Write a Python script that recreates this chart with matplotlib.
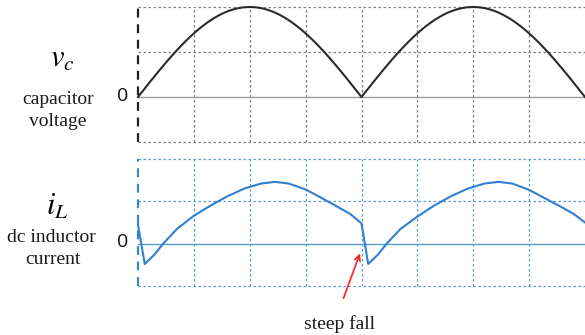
import numpy as np
import matplotlib
matplotlib.use("Agg")
import matplotlib.pyplot as plt

# DATA
grid_x = [1, 2, 3, 4, 5, 6, 7]
vc_x = np.linspace(0, 8, 161)
vc_peak = 2.0
vc_period = 8.0

# dc inductor current
il_x = [0.0, 0.12, 0.3, 0.45, 0.7, 1.0, 1.3, 1.6, 1.9, 2.2, 2.45, 2.7,
        3.0, 3.3, 3.6, 3.8, 4.0,
        4.12, 4.3, 4.45, 4.7, 5.0, 5.3, 5.6, 5.9, 6.2, 6.45, 6.7,
        7.0, 7.3, 7.6, 7.8, 8.0]
il_y = [0.45, -0.48, -0.25, 0.0, 0.35, 0.66, 0.9, 1.12, 1.3, 1.42, 1.46, 1.42,
        1.28, 1.07, 0.85, 0.7, 0.48,
        -0.48, -0.25, 0.0, 0.35, 0.64, 0.9, 1.12, 1.3, 1.42, 1.46, 1.42,
        1.27, 1.06, 0.85, 0.7, 0.5]

W, H = 585, 335
fig = plt.figure(figsize=(W / 100, H / 100), dpi=100)
plt.rcParams["mathtext.fontset"] = "stix"


def box(left, top, right, bottom):
    return [left / W, 1 - bottom / H, (right - left) / W, (bottom - top) / H]


def panel(rect, grid_col, border_col, zero_col):
    ax = fig.add_axes(rect)
    ax.set_xlim(0, 8)
    ax.set_ylim(-1, 2)
    ax.axis("off")
    for gx in grid_x:
        ax.axvline(gx, color=grid_col, lw=0.9, ls=(0, (2, 2)), clip_on=False)
    for gy in [2, 1, -1]:
        ax.axhline(gy, color=grid_col, lw=0.9, ls=(0, (2, 2)), clip_on=False)
    ax.axhline(0, color=zero_col, lw=1.0, clip_on=False)
    ax.axvline(0, color=border_col, lw=1.6, ls=(0, (4, 3)), clip_on=False)
    return ax


ax1 = panel(box(138, 7, 585, 142), "#7f7f7f", "#222222", "#9a9a9a")
vc_y = vc_peak * np.abs(np.sin(np.pi * vc_x / (vc_period / 2)))
ax1.plot(vc_x, vc_y, color="#2b2b2b", lw=1.5, clip_on=False)

ax2 = panel(box(138, 159, 585, 286), "#5b9bd5", "#3a86cc", "#5b9bd5")
ax2.plot(il_x, il_y, color="#2f80d0", lw=1.5, clip_on=False)

serif = ["Liberation Serif", "DejaVu Serif"]

fig.text(62 / W, 1 - 58 / H, r"$v_c$", fontsize=22, ha="center", va="center")
fig.text(58 / W, 1 - 100 / H, "capacitor", family=serif, fontsize=14,
         ha="center", va="center", color="#1a1a1a")
fig.text(58 / W, 1 - 121 / H, "voltage", family=serif, fontsize=14,
         ha="center", va="center", color="#1a1a1a")
fig.text(123 / W, 1 - 96 / H, "0", family="Open Sans", fontsize=14,
         ha="center", va="center", color="#111111")

fig.text(57 / W, 1 - 206 / H, r"$i_L$", fontsize=22, ha="center", va="center")
fig.text(51 / W, 1 - 237 / H, "dc inductor", family=serif, fontsize=14,
         ha="center", va="center", color="#1a1a1a")
fig.text(53 / W, 1 - 260 / H, "current", family=serif, fontsize=14,
         ha="center", va="center", color="#1a1a1a")
fig.text(123 / W, 1 - 242 / H, "0", family="Open Sans", fontsize=14,
         ha="center", va="center", color="#111111")

ax2.annotate("", xy=(3.99, -0.17), xytext=(3.66, -1.35),
             arrowprops=dict(arrowstyle="->", color="#ff2020", lw=1.2),
             annotation_clip=False)
fig.text(340 / W, 1 - 324 / H, "steep fall", family=serif, fontsize=14,
         ha="center", va="center", color="#1a1a1a")

fig.savefig("out.png", dpi=100)
